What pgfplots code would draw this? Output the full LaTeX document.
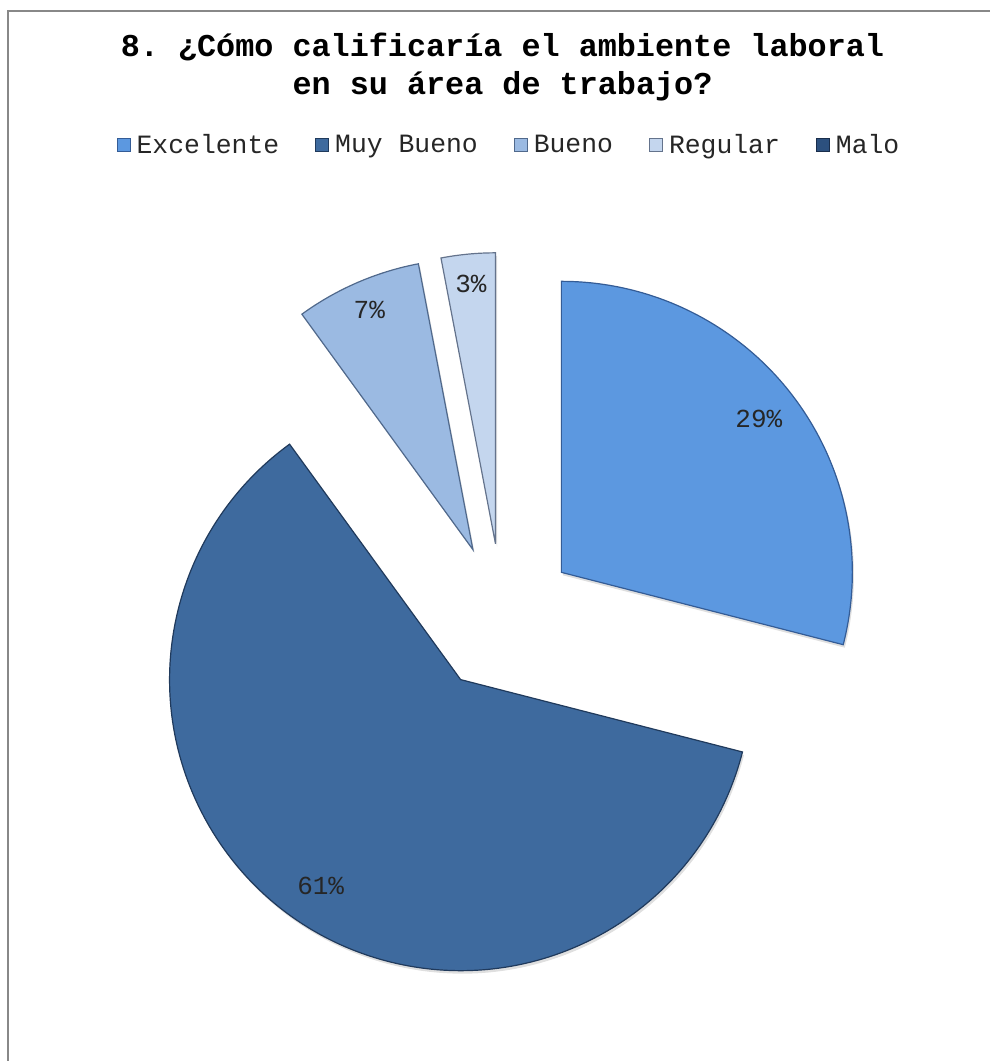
\documentclass[border=0pt]{standalone}
\usepackage{pgfplots}
\pgfplotsset{compat=1.18}
\usepackage{pgfplotstable}
\usepackage{fontspec}
\setmainfont{Liberation Sans}
\setmonofont{Liberation Mono}
\usetikzlibrary{shadows}

\definecolor{exc}{RGB}{92,152,224}
\definecolor{excD}{RGB}{52,92,150}
\definecolor{muy}{RGB}{62,106,158}
\definecolor{muyD}{RGB}{32,58,92}
\definecolor{bue}{RGB}{155,186,226}
\definecolor{bueD}{RGB}{80,105,140}
\definecolor{reg}{RGB}{196,214,238}
\definecolor{regD}{RGB}{100,115,140}
\definecolor{mal}{RGB}{44,80,126}
\definecolor{malD}{RGB}{25,45,75}
\definecolor{frame}{RGB}{136,136,136}

\pgfplotstableread{
label value lr
Excelente 29 250
MuyBueno 61 249
Bueno 7 261
Regular 3 261
Malo 0 0
}\pietable

\newcommand\cx{502.5}
\newcommand\cy{443}
\newcommand\R{291}
\newcommand\ex{74.5}

\newcommand\computeslice[3]{%
  \pgfplotstablegetelem{#1}{value}\of\pietable%
  \expandafter\xdef\csname v#2\endcsname{\pgfplotsretval}%
  \pgfmathsetmacro\tv{\pgfplotsretval}%
  \pgfplotstablegetelem{#1}{lr}\of\pietable%
  \pgfmathsetmacro\tl{\pgfplotsretval}%
  \pgfmathsetmacro\ts{#3}%
  \pgfmathsetmacro\te{\ts-3.6*\tv}%
  \pgfmathsetmacro\tm{(\ts+\te)/2}%
  \pgfmathsetmacro\tx{\cx+\ex*cos(\tm)}%
  \pgfmathsetmacro\ty{\cy+\ex*sin(\tm)}%
  \pgfmathsetmacro\tpx{\tx+\R*cos(\ts)}%
  \pgfmathsetmacro\tpy{\ty+\R*sin(\ts)}%
  \pgfmathsetmacro\tlx{\tx+\tl*cos(\tm)}%
  \pgfmathsetmacro\tly{\ty+\tl*sin(\tm)}%
  \expandafter\xdef\csname s#2\endcsname{\ts}%
  \expandafter\xdef\csname e#2\endcsname{\te}%
  \expandafter\xdef\csname x#2\endcsname{\tx}%
  \expandafter\xdef\csname y#2\endcsname{\ty}%
  \expandafter\xdef\csname px#2\endcsname{\tpx}%
  \expandafter\xdef\csname py#2\endcsname{\tpy}%
  \expandafter\xdef\csname lx#2\endcsname{\tlx}%
  \expandafter\xdef\csname ly#2\endcsname{\tly}%
}

\pgfplotsset{sqleg/.style={legend image code/.code={\draw[##1, line width=0.4pt] (0pt,-3.3pt) rectangle (6.6pt,3.3pt);}}}

\begin{document}%
\begin{tikzpicture}
\computeslice{0}{A}{90}
\computeslice{1}{B}{\eA}
\computeslice{2}{C}{\eB}
\computeslice{3}{D}{\eC}
\begin{axis}[
  scale only axis, width=495pt, height=530.5pt,
  xmin=0, xmax=990, ymin=0, ymax=1061,
  hide axis, clip=false,
  legend columns=5,
  legend style={at={(axis description cs:0.5131,0.8633)}, anchor=center,
    draw=none, fill=none,
    font=\ttfamily\fontsize{13.2}{15}\selectfont, text=black!85,
    nodes={inner xsep=0pt, inner ysep=1pt},
    /tikz/every even column/.append style={column sep=18pt},
    /tikz/every odd column/.append style={column sep=3pt}},
]
\draw[frame, line width=1pt] (axis cs:7.5,0) -- (axis cs:7.5,1050) -- (axis cs:990,1050);

\node[align=center, font=\ttfamily\bfseries\fontsize{15.9}{19}\selectfont] at (axis cs:502.5,994)
  {8. ¿Cómo calificaría el ambiente laboral\\en su área de trabajo?};

\fill[exc, draw=excD, line width=0.6pt, drop shadow={shadow xshift=0.8pt, shadow yshift=-1.5pt, opacity=0.25}]
  (axis cs:\xA,\yA) -- (axis cs:\pxA,\pyA) arc[start angle=\sA, end angle=\eA, radius=\R] -- cycle;
\fill[muy, draw=muyD, line width=0.6pt, drop shadow={shadow xshift=0.8pt, shadow yshift=-1.5pt, opacity=0.25}]
  (axis cs:\xB,\yB) -- (axis cs:\pxB,\pyB) arc[start angle=\sB, end angle=\eB, radius=\R] -- cycle;
\fill[bue, draw=bueD, line width=0.6pt, drop shadow={shadow xshift=0.8pt, shadow yshift=-1.5pt, opacity=0.25}]
  (axis cs:\xC,\yC) -- (axis cs:\pxC,\pyC) arc[start angle=\sC, end angle=\eC, radius=\R] -- cycle;
\fill[reg, draw=regD, line width=0.6pt, drop shadow={shadow xshift=0.8pt, shadow yshift=-1.5pt, opacity=0.25}]
  (axis cs:\xD,\yD) -- (axis cs:\pxD,\pyD) arc[start angle=\sD, end angle=\eD, radius=\R] -- cycle;

\node[font=\ttfamily\fontsize{13}{15}\selectfont, text=black!85] at (axis cs:\lxA,\lyA) {\vA\%};
\node[font=\ttfamily\fontsize{13}{15}\selectfont, text=black!85] at (axis cs:\lxB,\lyB) {\vB\%};
\node[font=\ttfamily\fontsize{13}{15}\selectfont, text=black!85] at (axis cs:\lxC,\lyC) {\vC\%};
\node[font=\ttfamily\fontsize{13}{15}\selectfont, text=black!85] at (axis cs:\lxD,\lyD) {\vD\%};

\addlegendimage{sqleg, fill=exc, draw=excD}
\addlegendentry{Excelente~}
\addlegendimage{sqleg, fill=muy, draw=muyD}
\addlegendentry{Muy Bueno}
\addlegendimage{sqleg, fill=bue, draw=bueD}
\addlegendentry{Bueno}
\addlegendimage{sqleg, fill=reg, draw=regD}
\addlegendentry{Regular}
\addlegendimage{sqleg, fill=mal, draw=malD}
\addlegendentry{Malo}
\end{axis}
\pgfresetboundingbox
\useasboundingbox (current axis.south west) rectangle (current axis.north east);
\end{tikzpicture}%
\end{document}
